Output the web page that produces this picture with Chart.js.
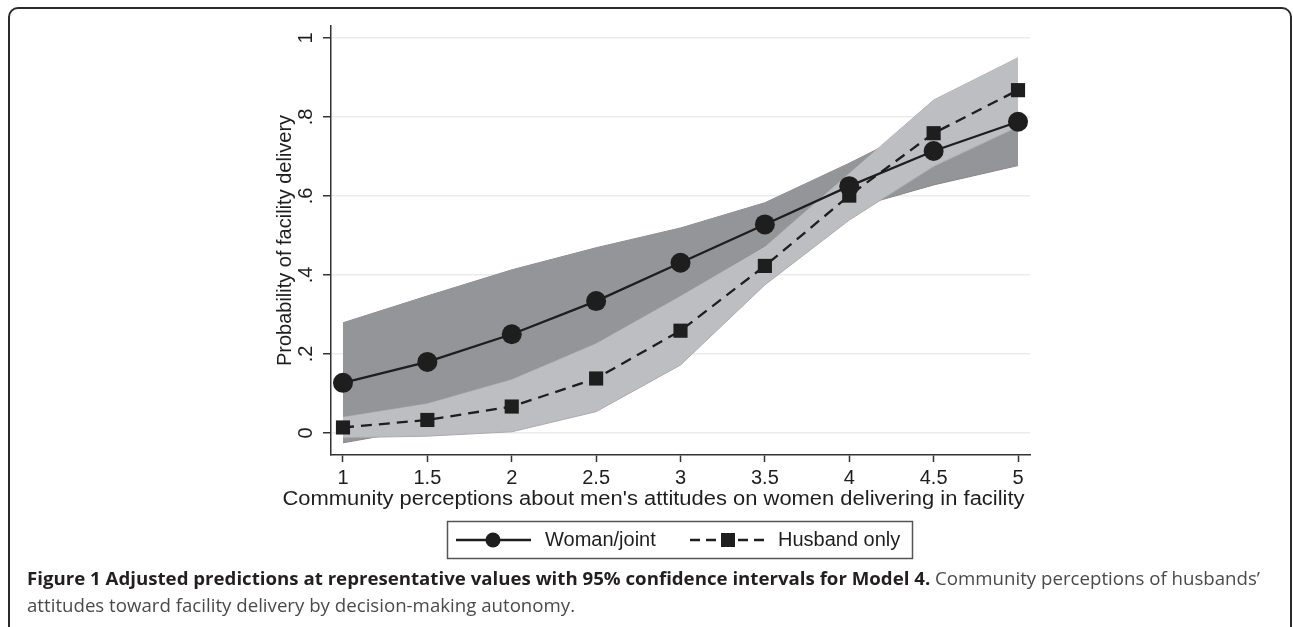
<!DOCTYPE html>
<html>
<head>
<meta charset="utf-8">
<script src="https://cdn.jsdelivr.net/npm/chart.js@4/dist/chart.umd.min.js"></script>
<style>
  html, body { margin: 0; padding: 0; background: #fff; }
  #wrap { position: relative; width: 1293px; height: 627px; overflow: hidden; }
  #chart { position: absolute; left: 0; top: 0; }
  #frame {
    position: absolute; left: 8px; top: 7px; width: 1280px; height: 700px;
    border: 2px solid #2b2b2b; border-radius: 10px;
  }
  #caption {
    position: absolute; left: 27px; top: 565px; white-space: nowrap;
    font-family: "Open Sans", "Noto Sans", sans-serif; font-size: 18.5px; line-height: 26.5px;
    color: #4a4a4a; transform-origin: 0 0;
  }
  #caption b { color: #231f20; font-weight: 700; }
</style>
</head>
<body>
<div id="wrap">
  <div id="frame"></div>
  <canvas id="chart" width="1293" height="627"></canvas>
  <div id="caption"><span id="line1"><b>Figure 1 Adjusted predictions at representative values with 95% confidence intervals for Model 4.</b> Community perceptions of husbands’</span><br>attitudes toward facility delivery by decision-making autonomy.</div>
</div>
<script>
// Valores
const xValues = [1, 1.5, 2, 2.5, 3, 3.5, 4, 4.5, 5];
const xTickLabels = ['1', '1.5', '2', '2.5', '3', '3.5', '4', '4.5', '5'];
const yTicks = [0, 0.2, 0.4, 0.6, 0.8, 1];
const yTickLabels = ['0', '.2', '.4', '.6', '.8', '1'];

const woman = [0.127, 0.180, 0.250, 0.334, 0.431, 0.528, 0.625, 0.714, 0.788];
const womanLow = [-0.025, 0.013, 0.087, 0.199, 0.343, 0.473, 0.567, 0.628, 0.677];
const womanHigh = [0.279, 0.347, 0.413, 0.469, 0.519, 0.583, 0.683, 0.790, 0.900];

const husband = [0.014, 0.033, 0.067, 0.138, 0.259, 0.423, 0.601, 0.759, 0.868];
const husbandLow = [-0.012, -0.008, 0.003, 0.054, 0.172, 0.375, 0.539, 0.675, 0.775];
const husbandHigh = [0.040, 0.074, 0.135, 0.226, 0.346, 0.471, 0.657, 0.843, 0.950];

const seriesLabels = ['Woman/joint', 'Husband only'];
const xTitle = "Community perceptions about men's attitudes on women delivering in facility";

const pts = arr => arr.map((v, i) => ({ x: xValues[i], y: v }));
const font = '"Liberation Sans", Arial, sans-serif';
const ink = '#1e1e1e';

// Legenda, título do eixo x e rótulos do eixo y desenhados à mão
const extras = {
    id: 'extras',
    afterDraw(chart) {
        const ctx = chart.ctx;
        const ys = chart.scales.y;
        const xs = chart.scales.x;
        ctx.save();
        ctx.fillStyle = ink;
        ctx.font = '20px ' + font;
        ctx.textAlign = 'center';
        ctx.textBaseline = 'middle';
        yTicks.forEach((v, i) => {
            ctx.save();
            ctx.translate(306, ys.getPixelForValue(v));
            ctx.rotate(-Math.PI / 2);
            ctx.fillText(yTickLabels[i], 0, 0);
            ctx.restore();
        });

        // título do eixo x, esticado até a largura do original
        const tw = ctx.measureText(xTitle).width;
        ctx.save();
        ctx.translate((xs.left + xs.right) / 2 - 27, 499);
        ctx.scale(742 / tw, 1);
        ctx.fillText(xTitle, 0, 0);
        ctx.restore();

        // caixa da legenda
        ctx.strokeStyle = '#555';
        ctx.lineWidth = 1.5;
        ctx.strokeRect(447.5, 521.5, 465, 37);
        const ly = 540;
        const w = chart.data.datasets[0];
        const h = chart.data.datasets[1];

        ctx.strokeStyle = w.borderColor;
        ctx.lineWidth = w.borderWidth;
        ctx.beginPath(); ctx.moveTo(456, ly); ctx.lineTo(531, ly); ctx.stroke();
        ctx.fillStyle = w.pointBackgroundColor;
        ctx.beginPath(); ctx.arc(493, ly, 7.5, 0, Math.PI * 2); ctx.fill();

        ctx.strokeStyle = h.borderColor;
        ctx.lineWidth = h.borderWidth;
        ctx.setLineDash([10, 6]);
        ctx.beginPath(); ctx.moveTo(690, ly); ctx.lineTo(766, ly); ctx.stroke();
        ctx.setLineDash([]);
        ctx.fillStyle = h.pointBackgroundColor;
        ctx.fillRect(721, ly - 7, 14, 14);

        ctx.fillStyle = ink;
        ctx.textAlign = 'left';
        ctx.fillText(seriesLabels[0], 545, ly);
        ctx.fillText(seriesLabels[1], 778, ly);
        ctx.restore();
    }
};

const ctx = document.getElementById('chart').getContext('2d');
new Chart(ctx, {
    type: 'line',
    data: {
        datasets: [{
            label: seriesLabels[0],
            data: pts(woman),
            borderColor: ink,
            borderWidth: 2.3,
            pointStyle: 'circle',
            pointRadius: 10,
            pointBorderWidth: 0,
            pointBackgroundColor: ink,
            tension: 0,
            order: 0
        }, {
            label: seriesLabels[1],
            data: pts(husband),
            borderColor: ink,
            borderWidth: 2.3,
            borderDash: [11, 7],
            pointStyle: 'rect',
            pointRadius: 10,
            pointBorderWidth: 0,
            pointBackgroundColor: ink,
            tension: 0,
            order: 1
        }, {
            label: 'husband low',
            data: pts(husbandLow),
            borderColor: '#a9abae',
            borderWidth: 1,
            pointRadius: 0,
            fill: 3,
            backgroundColor: '#bdbec1',
            order: 2
        }, {
            label: 'husband high',
            data: pts(husbandHigh),
            borderColor: '#a9abae',
            borderWidth: 1,
            pointRadius: 0,
            fill: false,
            order: 2
        }, {
            label: 'woman low',
            data: pts(womanLow),
            borderColor: '#85878a',
            borderWidth: 1,
            pointRadius: 0,
            fill: 5,
            backgroundColor: '#939598',
            order: 3
        }, {
            label: 'woman high',
            data: pts(womanHigh),
            borderColor: '#85878a',
            borderWidth: 1,
            pointRadius: 0,
            fill: false,
            order: 3
        }]
    },
    options: {
        responsive: false,
        animation: false,
        events: [],
        layout: { padding: { left: 260, top: 26, right: 263, bottom: 112 } },
        plugins: {
            legend: { display: false },
            tooltip: { enabled: false }
        },
        scales: {
            x: {
                type: 'linear',
                min: 0.929,
                max: 5.071,
                afterBuildTicks: s => { s.ticks = xValues.map(v => ({ value: v })); },
                afterFit: s => { s.height = 60; s.paddingLeft = 0; s.paddingRight = 0; },
                ticks: {
                    padding: 4.5,
                    color: ink,
                    font: { family: font, size: 20 },
                    maxRotation: 0,
                    callback: (v, i) => xTickLabels[i]
                },
                grid: {
                    drawOnChartArea: false,
                    drawTicks: true,
                    tickLength: 7,
                    tickColor: '#333',
                    tickWidth: 1.5
                },
                border: { display: true, color: '#333', width: 1.5 },
                title: { display: false }
            },
            y: {
                type: 'linear',
                min: -0.0557,
                max: 1.0304,
                afterBuildTicks: s => { s.ticks = yTicks.map(v => ({ value: v })); },
                afterFit: s => { s.width = 71; s.paddingTop = 0; s.paddingBottom = 0; },
                ticks: { display: false },
                grid: {
                    color: '#ebebeb',
                    lineWidth: 1.5,
                    drawTicks: true,
                    tickLength: 8,
                    tickColor: '#333',
                    tickWidth: 1.5
                },
                border: { display: true, color: '#333', width: 1.5 },
                title: {
                    display: true,
                    text: 'Probability of facility delivery',
                    color: ink,
                    font: { family: font, size: 20 },
                    padding: { top: 13.5, bottom: 0 }
                }
            }
        }
    },
    plugins: [extras]
});

// Ajusta a largura da legenda da figura
const cap = document.getElementById('caption');
const w1 = document.getElementById('line1').getBoundingClientRect().width;
cap.style.transform = 'scaleX(' + (1233 / w1) + ')';
</script>
</body>
</html>
